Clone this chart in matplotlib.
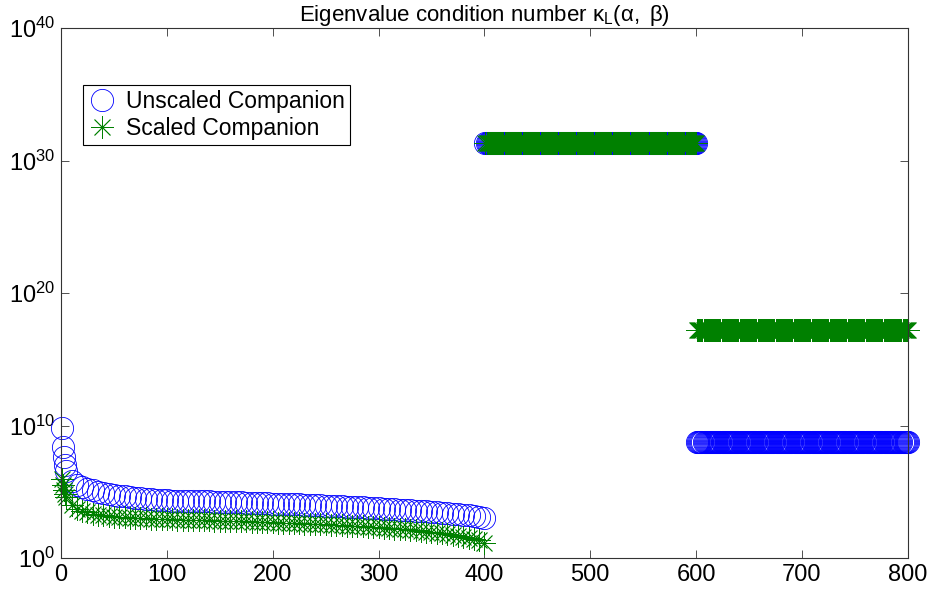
import numpy as np
import matplotlib.pyplot as plt

plt.rcParams['font.family'] = ['Liberation Sans', 'DejaVu Sans']
plt.rcParams['mathtext.fontset'] = 'custom'
plt.rcParams['mathtext.rm'] = 'Liberation Sans'
plt.rcParams['mathtext.it'] = 'Liberation Sans:italic'
plt.rcParams['mathtext.sf'] = 'Liberation Sans'

# --- data (log10 of the condition number) ---
# first block: eigenvalues 1..400, sampled
idx_first = [1, 2, 3, 4] + list(range(5, 401, 5))

log_unscaled_first = [
    9.8, 8.4, 7.6, 7.0,
    6.6, 5.8, 5.5, 5.35, 5.2, 5.1, 5.0, 4.9, 4.83, 4.77,
    4.71, 4.66, 4.61, 4.56, 4.51, 4.47, 4.44, 4.41, 4.38, 4.36,
    4.34, 4.33, 4.32, 4.31, 4.30, 4.29, 4.28, 4.27, 4.26, 4.25,
    4.24, 4.22, 4.21, 4.20, 4.19, 4.17, 4.16, 4.14, 4.13, 4.11,
    4.10, 4.08, 4.07, 4.05, 4.04, 4.02, 4.01, 3.99, 3.97, 3.96,
    3.94, 3.92, 3.90, 3.88, 3.86, 3.84, 3.82, 3.80, 3.78, 3.76,
    3.73, 3.71, 3.68, 3.66, 3.63, 3.60, 3.58, 3.55, 3.52, 3.49,
    3.46, 3.43, 3.39, 3.36, 3.32, 3.28, 3.23, 3.18, 3.12, 3.05,
]

log_scaled_first = [
    6.0, 5.5, 5.1, 4.8,
    4.6, 4.0, 3.7, 3.55, 3.45, 3.35, 3.28, 3.22, 3.17, 3.13,
    3.10, 3.07, 3.05, 3.03, 3.01, 2.99, 2.97, 2.95, 2.94, 2.92,
    2.91, 2.90, 2.89, 2.88, 2.87, 2.86, 2.85, 2.84, 2.83, 2.82,
    2.81, 2.80, 2.79, 2.77, 2.76, 2.75, 2.74, 2.72, 2.71, 2.70,
    2.68, 2.67, 2.65, 2.64, 2.62, 2.60, 2.59, 2.57, 2.55, 2.53,
    2.51, 2.49, 2.47, 2.45, 2.43, 2.41, 2.38, 2.36, 2.33, 2.31,
    2.28, 2.25, 2.22, 2.19, 2.16, 2.12, 2.08, 2.04, 2.00, 1.96,
    1.91, 1.86, 1.81, 1.75, 1.69, 1.62, 1.54, 1.45, 1.35, 1.15,
]

# second block: eigenvalues 401..600 (both curves coincide)
idx_second = np.arange(401, 601)
log_unscaled_second = 31.3
log_scaled_second = 31.3

# third block: eigenvalues 601..800
idx_third = np.arange(601, 801)
log_unscaled_third = 8.75
log_scaled_third = 17.2

x_unscaled = np.concatenate([idx_first, idx_second, idx_third])
y_unscaled = 10.0 ** np.concatenate([
    log_unscaled_first,
    np.full(len(idx_second), log_unscaled_second),
    np.full(len(idx_third), log_unscaled_third),
])
x_scaled = x_unscaled
y_scaled = 10.0 ** np.concatenate([
    log_scaled_first,
    np.full(len(idx_second), log_scaled_second),
    np.full(len(idx_third), log_scaled_third),
])

xticks = [0, 100, 200, 300, 400, 500, 600, 700, 800]
ytick_exp = [0, 10, 20, 30, 40]

# --- plot ---
fig = plt.figure(figsize=(9.34, 5.91), dpi=100)
ax = fig.add_axes([0.0653, 0.0558, 0.9067, 0.8968])

ax.plot(x_unscaled, y_unscaled, linestyle='none', marker='o', markersize=16,
        markerfacecolor='none', markeredgecolor=(0, 0, 1), markeredgewidth=0.6,
        label='Unscaled Companion', clip_on=False)
ax.plot(x_scaled, y_scaled, linestyle='none', marker=(8, 2, 0), markersize=16,
        markeredgecolor=(0, 0.5, 0), color=(0, 0.5, 0), markeredgewidth=0.6,
        label='Scaled Companion', clip_on=False)

ax.set_yscale('log')
ax.set_xlim(0, 800)
ax.set_ylim(1e0, 1e40)
ax.set_xticks(xticks)
ax.set_yticks([10.0 ** e for e in ytick_exp])
ax.set_yticklabels([r'$10^{%d}$' % e for e in ytick_exp])
ax.yaxis.set_minor_locator(plt.NullLocator())
ax.tick_params(direction='in', length=6, width=0.6, top=True, right=True,
               labelsize=17, pad=4, color='#333333')
for s in ax.spines.values():
    s.set_linewidth(0.8)
    s.set_color('#333333')

ax.set_title(r'Eigenvalue condition number $\mathregular{\kappa_L(\alpha,\ \beta)}$',
             fontsize=16, pad=5)

leg = ax.legend(loc='upper left', bbox_to_anchor=(0.026, 0.892), borderaxespad=0,
                fontsize=16.5, numpoints=1, handlelength=1.2, handletextpad=0.45,
                labelspacing=0.17, fancybox=False, framealpha=1,
                borderpad=0.22)
leg.get_frame().set_edgecolor('black')
leg.get_frame().set_linewidth(0.8)

fig.savefig('out.png', dpi=100)
